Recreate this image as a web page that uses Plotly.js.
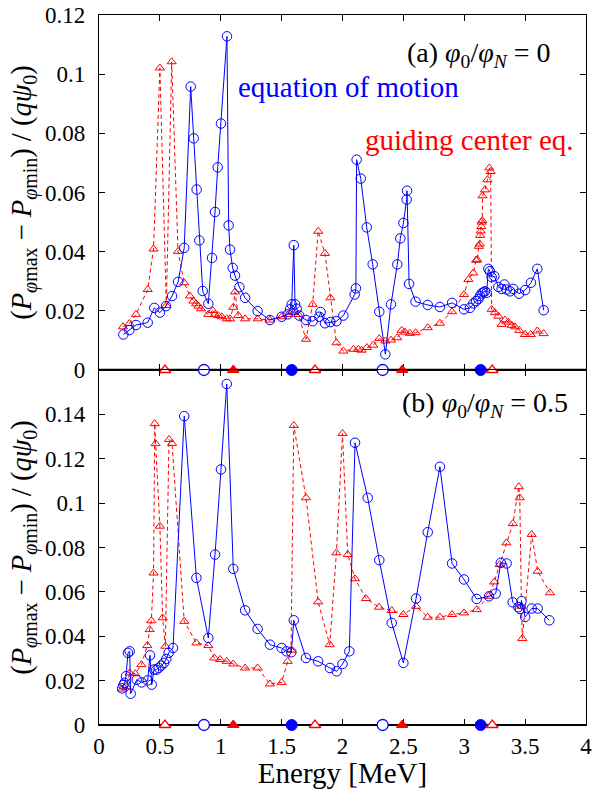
<!DOCTYPE html>
<html><head><meta charset="utf-8">
<script src="https://cdn.plot.ly/plotly-3.0.1.min.js"></script>
<style>body{margin:0;padding:0;background:#fff;} #chart{width:604px;height:789px;}</style>
</head><body><div id="chart"></div>
<script>
// ---- Panel (a): phi0/phiN = 0 ----
const energyEomA = [0.20,0.249,0.304,0.40,0.454,0.50,0.55,0.60,0.65,0.70,0.753,0.778,0.802,0.824,0.852,0.898,0.928,0.953,0.975,1.002,1.051,1.065,1.076,1.098,1.117,1.153,1.20,1.303,1.404,1.50,1.55,1.569,1.583,1.60,1.61,1.624,1.645,1.70,1.755,1.81,1.82,1.856,1.90,1.95,2.007,2.10,2.11,2.116,2.15,2.199,2.248,2.302,2.352,2.398,2.45,2.475,2.50,2.527,2.53,2.547,2.60,2.70,2.80,2.90,2.998,3.047,3.075,3.097,3.116,3.129,3.143,3.157,3.17,3.184,3.198,3.21,3.225,3.247,3.28,3.307,3.33,3.348,3.376,3.403,3.45,3.50,3.548,3.60,3.652];
const dPEomA = [0.012,0.0135,0.0152,0.016,0.021,0.0194,0.0216,0.025,0.0298,0.0413,0.0958,0.0783,0.061,0.0438,0.0267,0.0224,0.0379,0.0534,0.0685,0.0833,0.1128,0.0489,0.0407,0.0345,0.0319,0.028,0.0244,0.0199,0.0169,0.018,0.0188,0.0205,0.0222,0.0422,0.0222,0.0207,0.0184,0.0169,0.0165,0.018,0.0196,0.0158,0.0162,0.0165,0.0184,0.0255,0.0276,0.0711,0.0647,0.0482,0.0357,0.0197,0.0053,0.0222,0.0357,0.0445,0.0497,0.0576,0.0606,0.0291,0.0231,0.022,0.0213,0.0227,0.0205,0.021,0.0225,0.0233,0.024,0.025,0.0259,0.0263,0.0266,0.0261,0.0342,0.0334,0.0314,0.0317,0.0281,0.0274,0.0289,0.0272,0.0266,0.0274,0.0258,0.027,0.0295,0.0342,0.0202];

const energyGcA = [0.197,0.249,0.304,0.40,0.448,0.50,0.553,0.597,0.649,0.70,0.747,0.775,0.797,0.816,0.838,0.898,0.934,0.953,0.98,1.008,1.049,1.076,1.103,1.117,1.144,1.20,1.303,1.404,1.50,1.555,1.60,1.637,1.70,1.755,1.80,1.856,1.90,1.95,2.007,2.09,2.13,2.157,2.20,2.253,2.302,2.352,2.398,2.45,2.486,2.513,2.554,2.60,2.70,2.80,2.90,2.998,3.034,3.075,3.097,3.107,3.12,3.127,3.13,3.135,3.14,3.143,3.148,3.15,3.17,3.19,3.206,3.217,3.225,3.252,3.28,3.307,3.335,3.362,3.39,3.417,3.452,3.50,3.546,3.60,3.652];
const dPGcA = [0.0146,0.0157,0.0188,0.0272,0.0409,0.1021,0.0218,0.1042,0.0401,0.0295,0.025,0.0233,0.0224,0.0216,0.0207,0.0188,0.0201,0.0188,0.0184,0.018,0.0173,0.0173,0.0212,0.0264,0.0184,0.0173,0.0173,0.0169,0.018,0.0188,0.0194,0.0188,0.0104,0.0222,0.0469,0.0394,0.0244,0.0092,0.0064,0.007,0.007,0.0067,0.0076,0.0084,0.0106,0.0098,0.0101,0.0109,0.0134,0.0128,0.0124,0.0126,0.0143,0.0158,0.0197,0.0255,0.0306,0.0328,0.0371,0.0373,0.0418,0.0426,0.0455,0.047,0.0485,0.05,0.0505,0.0589,0.0609,0.0643,0.0683,0.0671,0.0205,0.0194,0.0182,0.0154,0.0169,0.0162,0.0151,0.0146,0.0134,0.012,0.012,0.0132,0.0123];

// ---- Panel (b): phi0/phiN = 0.5 ----
const energyEomB = [0.19,0.20,0.21,0.222,0.238,0.252,0.26,0.31,0.35,0.40,0.419,0.433,0.452,0.471,0.49,0.512,0.534,0.553,0.572,0.608,0.70,0.80,0.898,0.953,1.002,1.049,1.103,1.20,1.303,1.404,1.50,1.54,1.58,1.60,1.70,1.80,1.897,1.952,2.0,2.056,2.103,2.207,2.302,2.404,2.50,2.604,2.70,2.80,2.90,2.998,3.102,3.203,3.258,3.30,3.348,3.398,3.444,3.458,3.47,3.50,3.554,3.603,3.699];
const dPEomB = [0.0165,0.018,0.019,0.022,0.0325,0.0332,0.0141,0.0204,0.0192,0.0201,0.0314,0.0182,0.025,0.0249,0.0257,0.0268,0.028,0.0298,0.0325,0.0347,0.1392,0.0663,0.0392,0.0768,0.1152,0.1537,0.0704,0.0517,0.0433,0.0362,0.0347,0.0332,0.0328,0.0472,0.0302,0.0287,0.0257,0.0242,0.0275,0.0332,0.1272,0.1024,0.0743,0.046,0.028,0.057,0.0869,0.1164,0.0728,0.0656,0.0568,0.058,0.0592,0.0731,0.0728,0.0553,0.0531,0.0523,0.0558,0.0487,0.0525,0.0525,0.0472];

const energyGcB = [0.19,0.224,0.252,0.298,0.348,0.397,0.416,0.43,0.448,0.458,0.465,0.50,0.523,0.545,0.575,0.60,0.70,0.80,0.898,0.947,0.994,1.049,1.103,1.20,1.303,1.404,1.50,1.55,1.577,1.60,1.70,1.80,1.895,1.95,2.0,2.043,2.103,2.193,2.30,2.404,2.50,2.604,2.70,2.80,2.90,2.998,3.102,3.198,3.247,3.291,3.346,3.40,3.448,3.456,3.47,3.477,3.554,3.603,3.704];
const dPGcB = [0.0162,0.0174,0.0235,0.0231,0.0272,0.0358,0.043,0.047,0.0685,0.1358,0.1268,0.0896,0.0483,0.0355,0.1287,0.1269,0.0467,0.037,0.0358,0.0302,0.0295,0.0287,0.0275,0.0257,0.0257,0.0185,0.0192,0.0287,0.0337,0.135,0.1024,0.0555,0.0362,0.0776,0.1314,0.0768,0.0659,0.057,0.0531,0.0516,0.0498,0.0535,0.0486,0.0486,0.0498,0.0505,0.052,0.058,0.0645,0.0723,0.0821,0.0908,0.1074,0.1024,0.0535,0.039,0.0859,0.0693,0.0596];

// ---- markers on the zero line (same for both panels) ----
const eomOpenE = [0.862, 2.33];
const eomFilledE = [1.583, 3.135];
const gcOpenE = [0.542, 1.774, 3.23];
const gcFilledE = [1.103, 2.49];
const zeroLevel = 0;

const xTicks = [0,0.5,1,1.5,2,2.5,3,3.5,4];
const xTickText = ['0','0.5','1','1.5','2','2.5','3','3.5','4'];
const yTicksA = [0,0.02,0.04,0.06,0.08,0.1,0.12];
const yTicksB = [0,0.02,0.04,0.06,0.08,0.1,0.12,0.14];

const BLUE = '#0000ff', RED = '#ff0000';
const FONT = '"Liberation Serif", "DejaVu Serif", serif';

function zeros(a){ return a.map(() => zeroLevel); }

function panelTraces(ex, ey, gx, gy, xa, ya){
  return [
    {x: gx, y: gy, xaxis: xa, yaxis: ya, type:'scatter', mode:'lines+markers', name:'guiding center eq.',
     line:{color:RED, width:1, dash:'4px,3px'},
     marker:{symbol:'triangle-up-open', size:8, color:RED, line:{width:1, color:RED}}},
    {x: ex, y: ey, xaxis: xa, yaxis: ya, type:'scatter', mode:'lines+markers', name:'equation of motion',
     line:{color:BLUE, width:1},
     marker:{symbol:'circle-open', size:9.5, color:BLUE, line:{width:1, color:BLUE}}},
    {x: eomOpenE, y: zeros(eomOpenE), xaxis: xa, yaxis: ya, type:'scatter', mode:'markers', cliponaxis:false, showlegend:false,
     marker:{symbol:'circle', size:11, color:'white', line:{width:1.3, color:BLUE}}},
    {x: eomFilledE, y: zeros(eomFilledE), xaxis: xa, yaxis: ya, type:'scatter', mode:'markers', cliponaxis:false, showlegend:false,
     marker:{symbol:'circle', size:11, color:BLUE, line:{width:1, color:BLUE}}},
    {x: gcOpenE, y: zeros(gcOpenE), xaxis: xa, yaxis: ya, type:'scatter', mode:'markers', cliponaxis:false, showlegend:false,
     marker:{symbol:'triangle-up', size:10, color:'white', line:{width:1.3, color:RED}}},
    {x: gcFilledE, y: zeros(gcFilledE), xaxis: xa, yaxis: ya, type:'scatter', mode:'markers', cliponaxis:false, showlegend:false,
     marker:{symbol:'triangle-up', size:10, color:RED, line:{width:1, color:RED}}}
  ];
}

const data = [].concat(
  panelTraces(energyEomA, dPEomA, energyGcA, dPGcA, 'x', 'y'),
  panelTraces(energyEomB, dPEomB, energyGcB, dPGcB, 'x2', 'y2')
);

const yTitle = '(<i>P</i><sub><i>φ</i>max</sub> − <i>P</i><sub><i>φ</i>min</sub>) / (<i>qψ</i><sub>0</sub>)';

const axisCommon = {
  showline:true, linecolor:'black', linewidth:1.2, mirror:'ticks',
  ticks:'inside', ticklen:6, tickwidth:1, tickcolor:'black',
  showgrid:false, zeroline:false, layer:'below traces'
};

const layout = {
  width:604, height:789,
  margin:{l:99, r:18, t:15, b:64},
  paper_bgcolor:'white', plot_bgcolor:'white',
  showlegend:false,
  font:{family:FONT, size:23, color:'black'},
  xaxis: Object.assign({}, axisCommon, {domain:[0,1], anchor:'y', range:[0,4], tickvals:xTicks, showticklabels:false}),
  yaxis: Object.assign({}, axisCommon, {domain:[0.5,1], anchor:'x', range:[0,0.12], tickvals:yTicksA, ticklabelstandoff:8,
    title:{text:yTitle, font:{family:FONT, size:28.5}, standoff:5}}),
  xaxis2: Object.assign({}, axisCommon, {domain:[0,1], anchor:'y2', range:[0,4], tickvals:xTicks, ticktext:xTickText,
    title:{text:'Energy [MeV]', font:{family:FONT, size:29}, standoff:2}}),
  yaxis2: Object.assign({}, axisCommon, {domain:[0,0.5], anchor:'x2', range:[0,0.16], tickvals:yTicksB, ticklabelstandoff:8,
    title:{text:yTitle, font:{family:FONT, size:28.5}, standoff:5}}),
  shapes:[
    {type:'line', xref:'paper', x0:0, x1:1, yref:'y', y0:0, y1:0, line:{color:'black', width:2.5}, layer:'below'},
    {type:'line', xref:'paper', x0:0, x1:1, yref:'y2', y0:0, y1:0, line:{color:'black', width:2.2}, layer:'below'}
  ],
  annotations:[
    {xref:'x', yref:'y', x:1.125, y:0.0957, xanchor:'left', yanchor:'middle', showarrow:false,
     text:'equation of motion', font:{family:FONT, size:29, color:BLUE}},
    {xref:'x', yref:'y', x:2.168, y:0.0778, xanchor:'left', yanchor:'middle', showarrow:false,
     text:'guiding center eq.', font:{family:FONT, size:29, color:RED}},
    {xref:'x', yref:'y', x:2.513, y:0.1065, xanchor:'left', yanchor:'middle', showarrow:false,
     text:'(a) <i>φ</i><sub>0</sub>/<i>φ</i><sub><i>N</i></sub> = 0', font:{family:FONT, size:28, color:'black'}},
    {xref:'x2', yref:'y2', x:2.472, y:0.1445, xanchor:'left', yanchor:'middle', showarrow:false,
     text:'(b) <i>φ</i><sub>0</sub>/<i>φ</i><sub><i>N</i></sub> = 0.5', font:{family:FONT, size:28, color:'black'}}
  ]
};

Plotly.newPlot('chart', data, layout, {displayModeBar:false, staticPlot:true});
</script>
</body></html>
